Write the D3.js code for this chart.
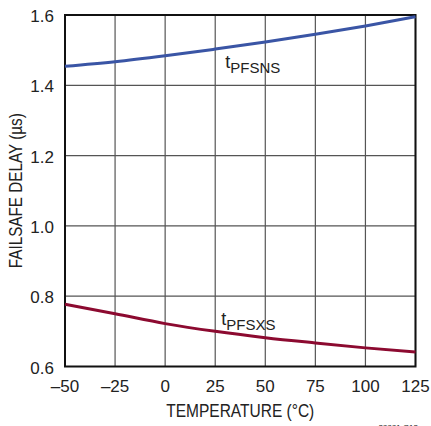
<!DOCTYPE html>
<html>
<head>
<meta charset="utf-8">
<script src="https://cdn.jsdelivr.net/npm/d3@7"></script>
<style>
  body { margin: 0; background: #fff; }
  text { font-family: "Liberation Sans Narrow", "Arial Narrow", "Liberation Sans", sans-serif; fill: #222; }
</style>
</head>
<body>
<div id="chart"></div>
<script>
// temperatures (°C) read at the grid lines
var temps = [-50, -25, 0, 25, 50, 75, 100, 125]
// failsafe delay, µs
var tPFSNS = [1.454, 1.467, 1.484, 1.503, 1.523, 1.545, 1.569, 1.595]
var tPFSXS = [0.777, 0.750, 0.722, 0.700, 0.682, 0.667, 0.653, 0.641]
var xTicks = [-50, -25, 0, 25, 50, 75, 100, 125]
var yTicks = [0.6, 0.8, 1.0, 1.2, 1.4, 1.6]

var width = 431
var height = 426
var margin = { top: 15, left: 65, right: 15, bottom: 60 }

var svg = d3
  .select('#chart')
  .append('svg')
  .attr('width', width)
  .attr('height', height)

var x = d3.scaleLinear().domain([-50, 125]).range([margin.left, width - margin.right - 0.5])
var y = d3.scaleLinear().domain([0.6, 1.6]).range([height - margin.bottom + 0.5, margin.top])

// grid
svg.append('g')
  .selectAll('line')
  .data(xTicks)
  .enter()
  .append('line')
  .attr('x1', d => x(d))
  .attr('x2', d => x(d))
  .attr('y1', y(0.6))
  .attr('y2', y(1.6))
  .attr('stroke', '#555')
  .attr('stroke-width', 1.2)

svg.append('g')
  .selectAll('line')
  .data(yTicks)
  .enter()
  .append('line')
  .attr('x1', x(-50))
  .attr('x2', x(125))
  .attr('y1', d => y(d))
  .attr('y2', d => y(d))
  .attr('stroke', '#555')
  .attr('stroke-width', 1.2)

// frame
svg.append('rect')
  .attr('x', x(-50))
  .attr('y', y(1.6))
  .attr('width', x(125) - x(-50))
  .attr('height', y(0.6) - y(1.6))
  .attr('fill', 'none')
  .attr('stroke', '#111')
  .attr('stroke-width', 2)

// tick labels
svg.append('g')
  .selectAll('text')
  .data(xTicks)
  .enter()
  .append('text')
  .attr('x', d => x(d))
  .attr('y', y(0.6) + 25)
  .attr('text-anchor', 'middle')
  .attr('font-size', 17)
  .text(d => d < 0 ? '\u2013' + Math.abs(d) : d)

svg.append('g')
  .selectAll('text')
  .data(yTicks)
  .enter()
  .append('text')
  .attr('x', x(-50) - 11)
  .attr('y', d => y(d) + 7)
  .attr('text-anchor', 'end')
  .attr('font-size', 17)
  .text(d => d.toFixed(1))

// axis titles
svg.append('text')
  .attr('x', (x(-50) + x(125)) / 2)
  .attr('y', 417)
  .attr('text-anchor', 'middle')
  .attr('font-size', 18)
  .attr('textLength', 148)
  .attr('lengthAdjust', 'spacingAndGlyphs')
  .text('TEMPERATURE (°C)')

svg.append('text')
  .attr('transform', 'translate(22,' + (y(0.6) + y(1.6)) / 2 + ') rotate(-90)')
  .attr('text-anchor', 'middle')
  .attr('font-size', 18)
  .attr('textLength', 155)
  .attr('lengthAdjust', 'spacingAndGlyphs')
  .text('FAILSAFE DELAY (µs)')

// curves
var line = d3.line()
  .x((d, i) => x(temps[i]))
  .y(d => y(d))
  .curve(d3.curveMonotoneX)

svg.append('path')
  .datum(tPFSNS)
  .attr('d', line)
  .attr('fill', 'none')
  .attr('stroke', '#3a55a5')
  .attr('stroke-width', 3)

svg.append('path')
  .datum(tPFSXS)
  .attr('d', line)
  .attr('fill', 'none')
  .attr('stroke', '#8c0a30')
  .attr('stroke-width', 3)

// curve labels
function label(tx, ty, sub) {
  var t = svg.append('text')
    .attr('x', tx)
    .attr('y', ty)
    .attr('font-size', 18)
  t.append('tspan').text('t')
  t.append('tspan').attr('dy', 5).attr('font-size', 15).text(sub)
}
label(x(30), y(1.449), 'PFSNS')
label(x(28), y(0.717), 'PFSXS')

// figure number, clipped at the bottom edge as in the source
svg.append('text')
  .attr('x', 418)
  .attr('y', 430)
  .attr('text-anchor', 'end')
  .attr('font-size', 8)
  .attr('fill', '#555')
  .text('28881 G13')
</script>
</body>
</html>
